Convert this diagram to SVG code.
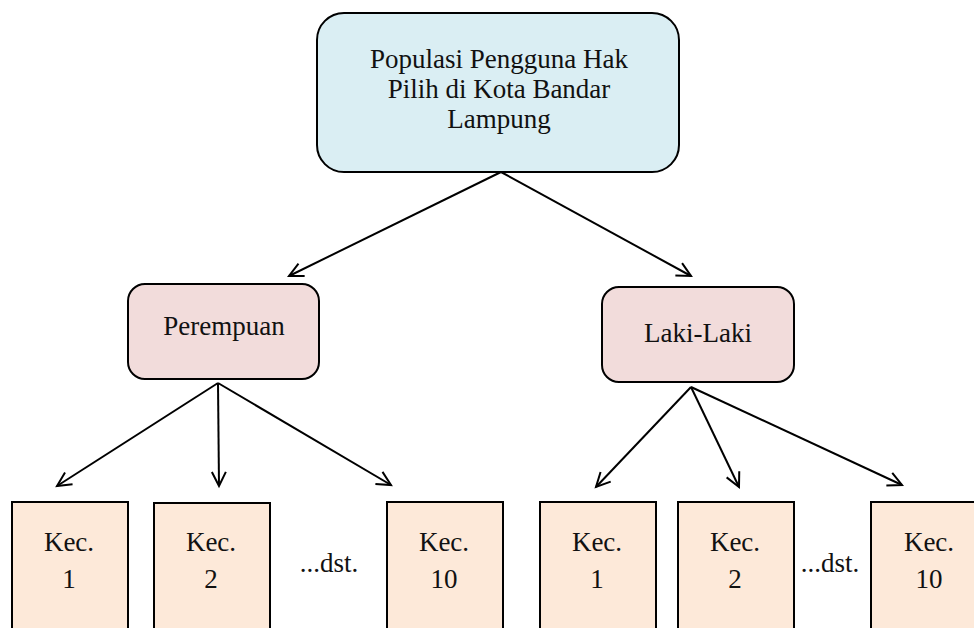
<svg xmlns="http://www.w3.org/2000/svg" width="974" height="628" viewBox="0 0 974 628">
<style>
.box{stroke:#000;stroke-width:2}
.top{fill:#DAEEF3}
.mid{fill:#F2DCDB}
.kec{fill:#FDE9D9}
text{font-family:"Liberation Serif","Times New Roman",serif;font-size:27px;fill:#111;text-anchor:middle}
.conn line{stroke:#000;stroke-width:2;marker-end:url(#arr)}
</style>
<defs>
<marker id="arr" markerUnits="userSpaceOnUse" markerWidth="20" markerHeight="20" refX="0" refY="0" viewBox="-16 -10 18 20" orient="auto" overflow="visible">
<path d="M-14,-7 L0,0 L-14,7" fill="none" stroke="#000" stroke-width="2" stroke-linejoin="miter"/>
</marker>
</defs>
<rect width="974" height="628" fill="#fff"/>
<g id="n-populasi">
<rect class="box top" x="317" y="13" width="362" height="159" rx="27"/>
<text x="499" y="68">Populasi Pengguna Hak</text>
<text x="499" y="98">Pilih di Kota Bandar</text>
<text x="499" y="128">Lampung</text>
</g>
<g id="n-perempuan">
<rect class="box mid" x="128" y="284" width="191" height="95" rx="17"/>
<text x="224" y="335">Perempuan</text>
</g>
<g id="n-laki">
<rect class="box mid" x="602" y="287" width="192" height="95" rx="17"/>
<text x="698" y="342">Laki-Laki</text>
</g>
<g id="n-p-kec1">
<rect class="box kec" x="12" y="502" width="116" height="140"/>
<text x="69" y="551">Kec.</text><text x="69" y="588">1</text>
</g>
<g id="n-p-kec2">
<rect class="box kec" x="154" y="503" width="116" height="140"/>
<text x="211" y="551">Kec.</text><text x="211" y="588">2</text>
</g>
<g id="n-p-dst">
<text x="329" y="572">...dst.</text>
</g>
<g id="n-p-kec10">
<rect class="box kec" x="387" y="502" width="116" height="140"/>
<text x="444" y="551">Kec.</text><text x="444" y="588">10</text>
</g>
<g id="n-l-kec1">
<rect class="box kec" x="540" y="502" width="116" height="140"/>
<text x="597" y="551">Kec.</text><text x="597" y="588">1</text>
</g>
<g id="n-l-kec2">
<rect class="box kec" x="678" y="502" width="116" height="140"/>
<text x="735" y="551">Kec.</text><text x="735" y="588">2</text>
</g>
<g id="n-l-dst">
<text x="830" y="572">...dst.</text>
</g>
<g id="n-l-kec10">
<rect class="box kec" x="871" y="502" width="116" height="140"/>
<text x="929" y="551">Kec.</text><text x="929" y="588">10</text>
</g>
<g id="connectors" class="conn">
<line x1="501" y1="172" x2="289" y2="276"/>
<line x1="501" y1="172" x2="691" y2="276"/>
<line x1="218" y1="383" x2="57" y2="486"/>
<line x1="218" y1="383" x2="219" y2="486"/>
<line x1="218" y1="383" x2="391" y2="485"/>
<line x1="691" y1="387" x2="596" y2="487"/>
<line x1="691" y1="387" x2="739" y2="487"/>
<line x1="691" y1="387" x2="902" y2="485"/>
</g>
</svg>
